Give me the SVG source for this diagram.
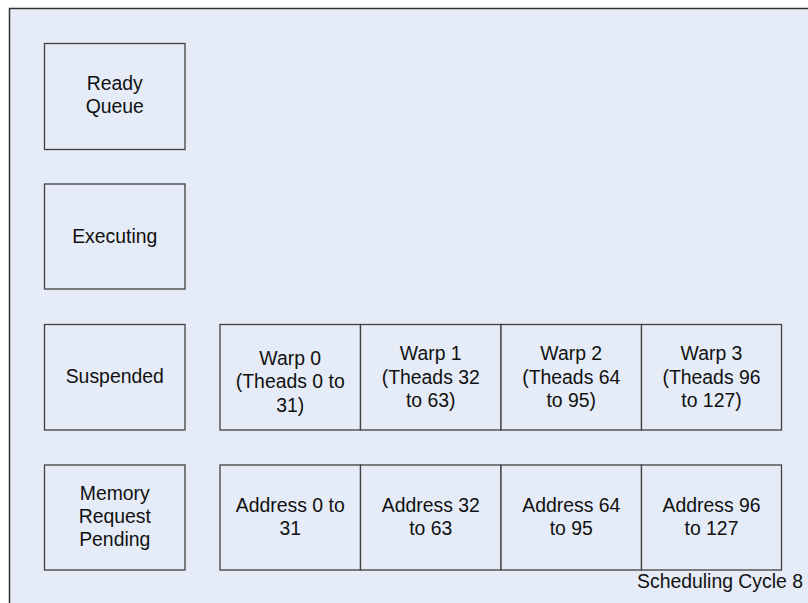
<svg xmlns="http://www.w3.org/2000/svg" width="808" height="603" viewBox="0 0 808 603">
<style>
.frame{fill:#E5ECF7;stroke:#333333;stroke-width:1.5}
.box{fill:#E5ECF7;stroke:#404040;stroke-width:1.3}
text{font-family:"Liberation Sans",Arial,sans-serif;font-size:19.4px;fill:#111111;text-anchor:middle}
</style>
<rect width="808" height="603" fill="#ffffff"/>
<rect class="frame" x="9.5" y="8.5" width="820" height="620"/>
<g id="ready-queue">
<rect class="box" x="44.5" y="43.5" width="140.5" height="106"/>
<text x="114.75" y="89.5">Ready</text>
<text x="114.75" y="112.5">Queue</text>
</g>
<g id="executing">
<rect class="box" x="44.5" y="184" width="140.5" height="105"/>
<text x="114.75" y="242.7">Executing</text>
</g>
<g id="suspended">
<rect class="box" x="44.5" y="324.5" width="140.5" height="105.5"/>
<text x="114.75" y="382.7">Suspended</text>
</g>
<g id="memory-request-pending">
<rect class="box" x="44.5" y="465" width="140.5" height="105"/>
<text x="114.75" y="500">Memory</text>
<text x="114.75" y="522.5">Request</text>
<text x="114.75" y="545.5">Pending</text>
</g>
<g id="warp0">
<rect class="box" x="220" y="324.5" width="140.5" height="105.5"/>
<text x="290.25" y="365">Warp 0</text>
<text x="290.25" y="388">(Theads 0 to</text>
<text x="290.25" y="411.5">31)</text>
</g>
<g id="warp1">
<rect class="box" x="360.5" y="324.5" width="140.5" height="105.5"/>
<text x="430.75" y="360">Warp 1</text>
<text x="430.75" y="383.5">(Theads 32</text>
<text x="430.75" y="407">to 63)</text>
</g>
<g id="warp2">
<rect class="box" x="501" y="324.5" width="140.5" height="105.5"/>
<text x="571.25" y="360">Warp 2</text>
<text x="571.25" y="383.5">(Theads 64</text>
<text x="571.25" y="407">to 95)</text>
</g>
<g id="warp3">
<rect class="box" x="641.5" y="324.5" width="140" height="105.5"/>
<text x="711.5" y="360">Warp 3</text>
<text x="711.5" y="383.5">(Theads 96</text>
<text x="711.5" y="407">to 127)</text>
</g>
<g id="addr0">
<rect class="box" x="220" y="465" width="140.5" height="105"/>
<text x="290.25" y="512.3">Address 0 to</text>
<text x="290.25" y="535">31</text>
</g>
<g id="addr1">
<rect class="box" x="360.5" y="465" width="140.5" height="105"/>
<text x="430.75" y="512.3">Address 32</text>
<text x="430.75" y="535">to 63</text>
</g>
<g id="addr2">
<rect class="box" x="501" y="465" width="140.5" height="105"/>
<text x="571.25" y="512.3">Address 64</text>
<text x="571.25" y="535">to 95</text>
</g>
<g id="addr3">
<rect class="box" x="641.5" y="465" width="140" height="105"/>
<text x="711.5" y="512.3">Address 96</text>
<text x="711.5" y="535">to 127</text>
</g>
<g id="connectors"></g>
<text x="637" y="588" style="text-anchor:start">Scheduling Cycle 8</text>
</svg>
